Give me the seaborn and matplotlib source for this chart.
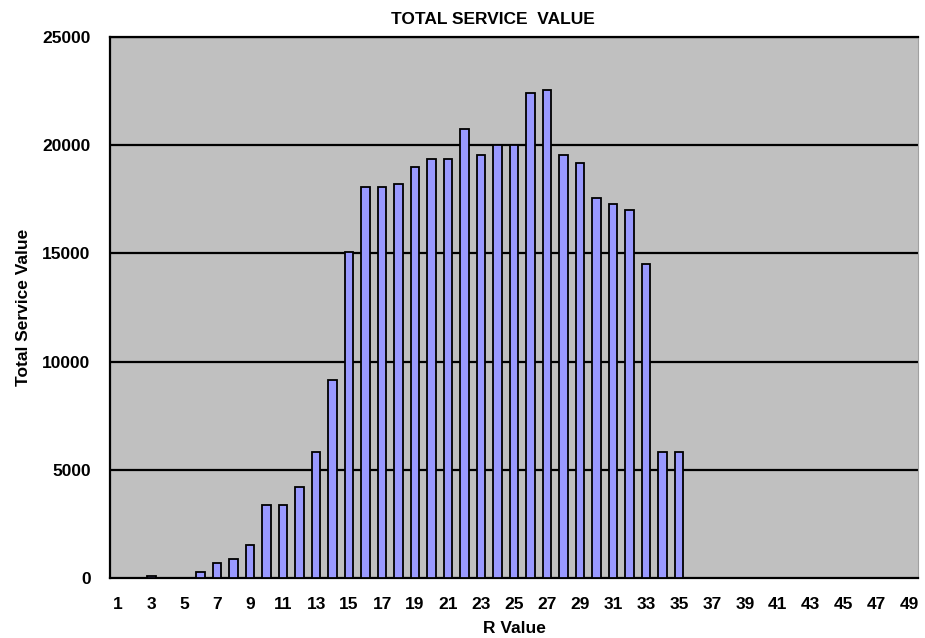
import numpy as np
import pandas as pd
import seaborn as sns
import matplotlib.pyplot as plt
from matplotlib.ticker import FixedLocator

# R values 1..49 and the total service value
r_values = list(range(1, 50))
totals = [0, 0, 90, 0, 0, 260, 710, 880, 1540, 3360,
          3360, 4190, 5840, 9150, 15050, 18080, 18080, 18190, 19010, 19380,
          19380, 20750, 19550, 20000, 20000, 22400, 22570, 19550, 19190, 17560,
          17280, 16990, 14510, 5840, 5840, 0, 0, 0, 0, 0,
          0, 0, 0, 0, 0, 0, 0, 0, 0]
y_ticks = [0, 5000, 10000, 15000, 20000, 25000]

df = pd.DataFrame({"R": r_values, "Total": totals})

sns.set_style("white")
plt.rcParams['font.family'] = ['Liberation Sans', 'DejaVu Sans']
plt.rcParams['font.weight'] = 'bold'
plt.rcParams['text.color'] = 'black'
plt.rcParams['axes.labelcolor'] = 'black'
plt.rcParams['xtick.color'] = 'black'
plt.rcParams['ytick.color'] = 'black'

fig = plt.figure(figsize=(9.25, 6.38), dpi=100)
ax = fig.add_axes([110/925, 1 - 578/638, 808/925, 541/638])
ax.set_facecolor("#C0C0C0")

sns.barplot(data=df, x="R", y="Total", color="#9999FF", width=0.52,
            edgecolor="black", linewidth=1.3, saturation=1, ax=ax, zorder=3)

ax.set_ylim(0, 25000)
ax.set_xlim(-0.5, len(r_values) - 0.5)
ax.set_yticks(y_ticks)
ax.set_yticklabels([str(v) for v in y_ticks], fontsize=12.5, fontweight='bold')
for v in y_ticks[1:]:
    ax.axhline(v, color="black", linewidth=1.6, zorder=1)

# labels on every other category, tick marks on category boundaries
ax.set_xticks(range(0, len(r_values), 2))
ax.set_xticklabels([str(r) for r in r_values[::2]], fontsize=12.5, fontweight='bold')
ax.xaxis.set_minor_locator(FixedLocator(np.arange(-0.5, len(r_values), 1.0)))
ax.tick_params(axis='x', which='major', length=0, pad=14)
ax.tick_params(axis='x', which='minor', length=5, width=1.3, color='black', direction='out')
ax.tick_params(axis='y', length=8, width=1.3, color='black', direction='out', pad=6)

for side in ["left", "bottom", "top"]:
    ax.spines[side].set_visible(True)
    ax.spines[side].set_color("black")
    ax.spines[side].set_linewidth(1.6)
ax.spines["right"].set_color("#A0A0A0")

ax.set_xlabel("R Value", fontsize=12.5, fontweight='bold', labelpad=6)
ax.set_ylabel("Total Service Value", fontsize=12.5, fontweight='bold', labelpad=8)
fig.text(493/925, 1 - 19/638, "TOTAL SERVICE  VALUE", ha="center", va="center",
         fontsize=12.5, fontweight='bold')

fig.savefig("out.png", dpi=100)
